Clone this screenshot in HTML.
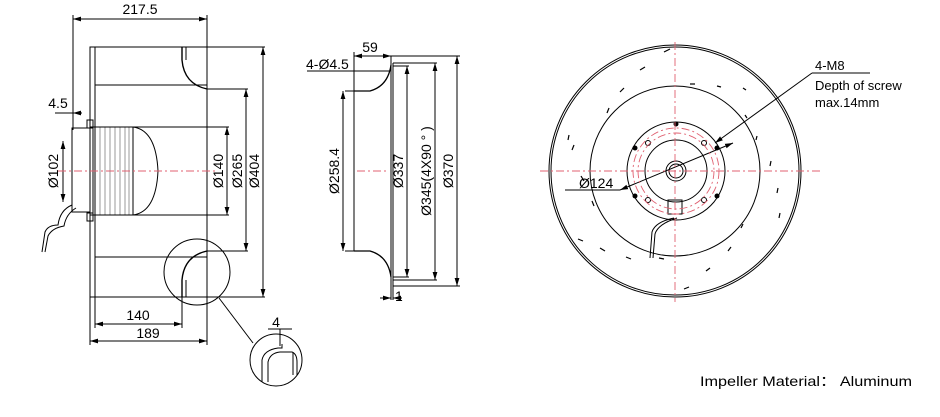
<!DOCTYPE html>
<html><head><meta charset="utf-8"><style>
html,body{margin:0;padding:0;background:#fff;}
svg{display:block;font-family:"Liberation Sans","Noto Sans CJK SC",Arial,sans-serif;}
</style></head><body>
<svg width="940" height="417" viewBox="0 0 940 417" xmlns="http://www.w3.org/2000/svg">
<defs>
<marker id="a" viewBox="0 0 10 6" refX="10" refY="3" markerWidth="8" markerHeight="5" orient="auto-start-reverse"><path d="M0,0 L10,3 L0,6 z" fill="#000"/></marker>
</defs>
<g stroke="#000" stroke-width="1" fill="none">
<line x1="73" y1="15" x2="73" y2="130"/>
<line x1="207" y1="15" x2="207" y2="345"/>
<line x1="73" y1="19" x2="207" y2="19" marker-start="url(#a)" marker-end="url(#a)"/>
<rect x="90" y="47" width="5" height="250"/>
<line x1="95" y1="47" x2="265" y2="47"/>
<line x1="95" y1="85" x2="207" y2="85"/>
<line x1="95" y1="257" x2="207" y2="257"/>
<line x1="95" y1="297" x2="265" y2="297"/>
<path d="M182,47 L182,60 Q184,84 207,89" stroke-width="1.4"/>
<line x1="186" y1="47" x2="186" y2="60"/>
<path d="M182,297 L182,280 Q184,256 207,251" stroke-width="1.4"/>
<line x1="186" y1="297" x2="186" y2="280"/>
<line x1="207" y1="89" x2="248" y2="89"/>
<line x1="207" y1="251" x2="248" y2="251"/>
<line x1="263" y1="47" x2="263" y2="297" marker-start="url(#a)" marker-end="url(#a)"/>
<line x1="246" y1="89" x2="246" y2="251" marker-start="url(#a)" marker-end="url(#a)"/>
<line x1="133" y1="127" x2="229" y2="127"/>
<line x1="133" y1="215" x2="229" y2="215"/>
<line x1="227" y1="127" x2="227" y2="215" marker-start="url(#a)" marker-end="url(#a)"/>
<rect x="72" y="128" width="18" height="84"/>
<rect x="90" y="127" width="43" height="88"/>
<line x1="93" y1="127" x2="93" y2="215"/>
<path d="M133,127 Q156,130 158,171 Q156,212 133,215"/>
<g stroke-width="0.4">
<line x1="100" y1="127" x2="100" y2="215"/><line x1="105" y1="127" x2="105" y2="215"/><line x1="110" y1="127" x2="110" y2="215"/><line x1="115" y1="127" x2="115" y2="215"/><line x1="120" y1="127" x2="120" y2="215"/><line x1="125" y1="127" x2="125" y2="215"/><line x1="129" y1="127" x2="129" y2="215"/>
</g>
<rect x="87" y="120" width="6" height="8"/>
<rect x="87" y="213" width="6" height="8"/>
<path d="M72,205 Q60,210 58,225 Q48,225 45,232 L42,252 M76,208 Q66,214 64,226 Q52,228 48,236 L45,252"/>
<line x1="63" y1="141" x2="63" y2="202" marker-start="url(#a)" marker-end="url(#a)"/>
<line x1="55" y1="113" x2="73" y2="113"/><line x1="73" y1="113" x2="82" y2="113" marker-start="url(#a)"/>
<line x1="95" y1="297" x2="95" y2="328"/><line x1="90" y1="297" x2="90" y2="345"/>
<line x1="182" y1="297" x2="182" y2="328"/>
<line x1="95" y1="324" x2="182" y2="324" marker-start="url(#a)" marker-end="url(#a)"/>
<line x1="90" y1="341" x2="207" y2="341" marker-start="url(#a)" marker-end="url(#a)"/>
<circle cx="197" cy="272" r="33"/>
<line x1="219" y1="298" x2="253" y2="343"/>
<circle cx="276" cy="360" r="26"/>
<path d="M262,382 L262,360 Q264,350 278,348 L282,348 L282,344 M268,382 L268,362 Q270,353 280,352 L292,352 Q297,354 297,362 L297,375 M293,352 L293,375"/>
<line x1="280" y1="329" x2="280" y2="346"/>
<line x1="268" y1="329" x2="292" y2="329"/>
<line x1="354" y1="52" x2="354" y2="91"/>
<line x1="354" y1="56" x2="391" y2="56" marker-start="url(#a)" marker-end="url(#a)"/>
<line x1="307" y1="71" x2="390" y2="71"/>
<line x1="391" y1="56" x2="391" y2="300"/>
<line x1="393" y1="63" x2="393" y2="300"/>
<path d="M354,91 L370,91 Q388,86 391,65" stroke-width="1.3"/>
<path d="M354,251 L370,251 Q388,256 391,277" stroke-width="1.3"/>
<line x1="354" y1="91" x2="354" y2="251"/>
<line x1="343" y1="91" x2="343" y2="251" marker-start="url(#a)" marker-end="url(#a)"/>
<line x1="345" y1="91" x2="354" y2="91"/><line x1="345" y1="251" x2="354" y2="251"/>
<line x1="391" y1="56" x2="460" y2="56"/>
<line x1="393" y1="63" x2="437" y2="63"/>
<line x1="393" y1="66" x2="409" y2="66"/>
<line x1="393" y1="277" x2="409" y2="277"/>
<line x1="393" y1="280" x2="437" y2="280"/>
<line x1="393" y1="286" x2="460" y2="286"/>
<line x1="457" y1="56" x2="457" y2="286" marker-start="url(#a)" marker-end="url(#a)"/>
<line x1="435" y1="63" x2="435" y2="280" marker-start="url(#a)" marker-end="url(#a)"/>
<line x1="407" y1="66" x2="407" y2="277" marker-start="url(#a)" marker-end="url(#a)"/>
<line x1="380" y1="298" x2="391" y2="298" marker-end="url(#a)"/>
<line x1="402" y1="298" x2="393" y2="298" marker-end="url(#a)"/>
<circle cx="675" cy="171" r="126"/>
<circle cx="675" cy="171" r="124"/>
<circle cx="675" cy="171" r="85"/>
<circle cx="676" cy="171" r="49"/>
<circle cx="676" cy="171" r="31"/>
<circle cx="676" cy="171" r="10"/>
<circle cx="676" cy="171" r="7"/>
<g fill="#000" stroke="none">
<circle cx="676" cy="124" r="2.5"/><circle cx="717" cy="148" r="2.5"/><circle cx="635" cy="148" r="2.5"/><circle cx="635" cy="196" r="2.5"/><circle cx="717" cy="196" r="2.5"/>
</g>
<circle cx="648" cy="143" r="2.5"/><circle cx="704" cy="143" r="2.5"/><circle cx="648" cy="200" r="2.5"/><circle cx="704" cy="200" r="2.5"/>
<rect x="668" y="200" width="14" height="14"/>
<path d="M674,218 Q655,222 652,232 L650,258 M677,218 Q658,224 655,234 L653,258"/>
<line x1="565" y1="190" x2="620" y2="190"/>
<line x1="620" y1="190" x2="733" y2="143" marker-start="url(#a)" marker-end="url(#a)"/>
<line x1="870" y1="73" x2="812" y2="73"/>
<line x1="812" y1="73" x2="715" y2="143" marker-end="url(#a)"/>
<g stroke-width="1.2">
<line x1="664" y1="52" x2="670" y2="49"/><line x1="640" y1="70" x2="645" y2="67"/><line x1="620" y1="92" x2="624" y2="88"/><line x1="607" y1="113" x2="609" y2="108"/><line x1="568" y1="140" x2="569" y2="135"/><line x1="572" y1="150" x2="574" y2="145"/>
<line x1="581" y1="176" x2="584" y2="181"/><line x1="592" y1="201" x2="594" y2="206"/><line x1="578" y1="239" x2="583" y2="241"/><line x1="600" y1="248" x2="605" y2="251"/><line x1="626" y1="257" x2="631" y2="259"/><line x1="659" y1="258" x2="664" y2="259"/>
<line x1="706" y1="271" x2="710" y2="268"/><line x1="684" y1="289" x2="689" y2="287"/><line x1="728" y1="251" x2="731" y2="247"/><line x1="741" y1="228" x2="743" y2="224"/><line x1="779" y1="218" x2="780" y2="213"/><line x1="777" y1="193" x2="778" y2="188"/><line x1="770" y1="166" x2="771" y2="161"/><line x1="756" y1="140" x2="757" y2="136"/>
<line x1="743" y1="88" x2="746" y2="90"/><line x1="717" y1="86" x2="721" y2="87"/><line x1="690" y1="84" x2="695" y2="84"/><line x1="745" y1="115" x2="747" y2="118"/>
</g>
</g>
<g stroke="#e06070" stroke-width="0.9" stroke-dasharray="8,3,2,3" fill="none">
<line x1="58" y1="171" x2="215" y2="171"/>
<line x1="357" y1="171" x2="388" y2="171"/>
<line x1="540" y1="171" x2="820" y2="171"/>
<line x1="675" y1="42" x2="675" y2="302"/>
<circle cx="676" cy="171" r="43"/>
<circle cx="676" cy="171" r="38"/>
</g>
<g font-size="14" fill="#000">
<text x="140" y="14" text-anchor="middle">217.5</text>
<text x="58" y="108" text-anchor="middle">4.5</text>
<text x="138" y="320" text-anchor="middle">140</text>
<text x="148" y="338" text-anchor="middle">189</text>
<text x="276" y="327" text-anchor="middle">4</text>
<text transform="translate(58,171) rotate(-90)" text-anchor="middle">Ø102</text>
<text transform="translate(223,171) rotate(-90)" text-anchor="middle">Ø140</text>
<text transform="translate(242,171) rotate(-90)" text-anchor="middle">Ø265</text>
<text transform="translate(259,171) rotate(-90)" text-anchor="middle">Ø404</text>
<text x="370" y="52" text-anchor="middle">59</text>
<text x="306" y="69">4-Ø4.5</text>
<text transform="translate(339,171) rotate(-90)" text-anchor="middle">Ø258.4</text>
<text transform="translate(403,171) rotate(-90)" text-anchor="middle">Ø337</text>
<text transform="translate(431,171) rotate(-90)" text-anchor="middle">Ø345(4X90 ° )</text>
<text transform="translate(453,171) rotate(-90)" text-anchor="middle">Ø370</text>
<text x="395" y="301">1</text>
<text x="579" y="188">Ø124</text>
<text x="815" y="70" font-size="13">4-M8</text>
<text x="815" y="90" font-size="13">Depth of screw</text>
<text x="815" y="107" font-size="13">max.14mm</text>
<text x="700" y="386" font-size="14" textLength="212" lengthAdjust="spacingAndGlyphs">Impeller Material：  Aluminum</text>
</g>
</svg>
</body></html>
